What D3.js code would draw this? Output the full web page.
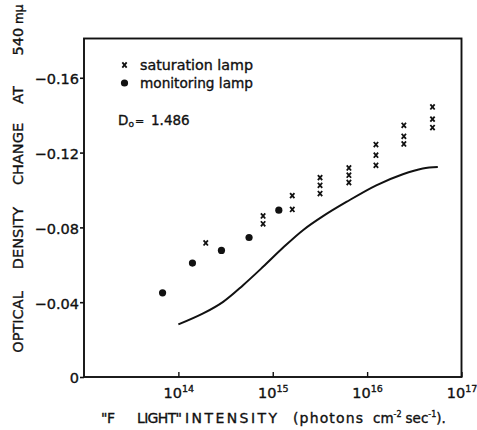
<!DOCTYPE html>
<html>
<head>
<meta charset="utf-8">
<script src="https://cdn.jsdelivr.net/npm/d3@7"></script>
<style>
  html, body { margin: 0; padding: 0; background: #fff; }
  svg { display: block; }
  text { font-family: "DejaVu Sans", sans-serif; fill: #111; stroke: #111; stroke-width: 0.35px; }
</style>
</head>
<body>
<svg id="chart" width="477" height="430"></svg>
<script>
// Optical density change at 540 mμ versus "F light" intensity
const xTicks = [1e14, 1e15, 1e16, 1e17];
const xTickExponents = ["14", "15", "16", "17"];
const yTicks = [0, -0.04, -0.08, -0.12, -0.16];
const yTickLabels = ["0", "\u22120.04", "\u22120.08", "\u22120.12", "\u22120.16"];

// saturation lamp readings (photons cm^-2 s^-1, ΔOD)
const saturationX = [1.95e14, 7.9e14, 7.9e14, 1.61e15, 1.61e15,
  3.17e15, 3.17e15, 3.17e15, 6.41e15, 6.41e15, 6.41e15,
  1.24e16, 1.24e16, 1.24e16, 2.45e16, 2.45e16, 2.45e16,
  4.93e16, 4.93e16, 4.93e16];
const saturationY = [-0.0717, -0.0861, -0.0819, -0.0970, -0.0896,
  -0.1066, -0.1025, -0.0981, -0.1118, -0.1079, -0.1040,
  -0.1243, -0.1186, -0.1132, -0.1346, -0.1287, -0.1246,
  -0.1444, -0.1379, -0.1334];

// monitoring lamp readings
const monitorX = [6.8e13, 1.41e14, 2.86e14, 5.61e14, 1.16e15];
const monitorY = [-0.0450, -0.0609, -0.0677, -0.0746, -0.0892];

// calculated curve
const curveX = [1.0e14, 1.83e14, 2.98e14, 4.85e14, 7.89e14, 1.29e15, 2.09e15,
  3.41e15, 6.03e15, 1.25e16, 2.39e16, 3.89e16, 5.61e16];
const curveY = [-0.0281, -0.0340, -0.0402, -0.0491, -0.0589, -0.0692, -0.0785,
  -0.0860, -0.0936, -0.1025, -0.1084, -0.1115, -0.1123];

const legendLabels = ["saturation lamp", "monitoring lamp"];
const d0Value = "1.486";

const svg = d3.select("#chart");
const plotLeft = 84, plotRight = 461.5, plotTop = 38.5, plotBottom = 377;

const x = d3.scaleLog().domain([1e13, 1e17]).range([plotLeft, plotRight]);
const y = d3.scaleLinear().domain([0, -0.181]).range([plotBottom, plotTop]);

// frame
svg.append("rect")
  .attr("x", plotLeft).attr("y", plotTop)
  .attr("width", plotRight - plotLeft).attr("height", plotBottom - plotTop)
  .attr("fill", "none").attr("stroke", "#111").attr("stroke-width", 1.9);

// y axis (ticks outside)
const yAxis = d3.axisLeft(y)
  .tickValues(yTicks)
  .tickFormat((d, i) => yTickLabels[i])
  .tickSize(4).tickSizeOuter(0).tickPadding(1);
const gy = svg.append("g").attr("transform", `translate(${plotLeft},0)`).call(yAxis);
gy.select(".domain").remove();
gy.selectAll(".tick line").attr("stroke", "#111").attr("stroke-width", 1.6);
gy.selectAll(".tick text")
  .style("font-family", "DejaVu Sans, sans-serif")
  .style("font-size", "14.5px").attr("dy", "0.4em");

// x axis (ticks inside)
const xAxis = d3.axisBottom(x).tickValues(xTicks).tickFormat("").tickSize(-5).tickSizeOuter(0);
const gx = svg.append("g").attr("transform", `translate(0,${plotBottom})`).call(xAxis);
gx.select(".domain").remove();
gx.selectAll(".tick line").attr("stroke", "#111").attr("stroke-width", 1.4);
gx.selectAll(".tick").each(function (d, i) {
  const t = d3.select(this).append("text")
    .attr("y", 21).attr("text-anchor", "middle")
    .style("font-size", "14.5px");
  t.append("tspan").text("10");
  t.append("tspan").attr("dy", -6).style("font-size", "9.5px").text(xTickExponents[i]);
});

// theoretical curve
const line = d3.line()
  .x((d, i) => x(curveX[i]))
  .y((d, i) => y(curveY[i]))
  .curve(d3.curveCatmullRom.alpha(0.5));
svg.append("path")
  .attr("d", line(curveX))
  .attr("fill", "none").attr("stroke", "#111").attr("stroke-width", 2);

// cross marker
const cross = {
  draw(ctx, size) {
    const r = Math.sqrt(size) / 2;
    ctx.moveTo(-r * 0.85, -r); ctx.lineTo(r * 0.85, r);
    ctx.moveTo(r * 0.85, -r); ctx.lineTo(-r * 0.85, r);
  }
};
const crossPath = d3.symbol(cross, 26)();

svg.append("g").selectAll("path")
  .data(saturationX)
  .join("path")
  .attr("d", crossPath)
  .attr("transform", (d, i) => `translate(${x(d)},${y(saturationY[i])})`)
  .attr("fill", "none").attr("stroke", "#111").attr("stroke-width", 1.8);

svg.append("g").selectAll("circle")
  .data(monitorX)
  .join("circle")
  .attr("cx", d => x(d))
  .attr("cy", (d, i) => y(monitorY[i]))
  .attr("r", 3.6)
  .attr("fill", "#111");

// legend
const lg = svg.append("g");
lg.append("path").attr("d", crossPath)
  .attr("transform", "translate(124.5,65)")
  .attr("fill", "none").attr("stroke", "#111").attr("stroke-width", 1.8);
lg.append("circle").attr("cx", 124.5).attr("cy", 83).attr("r", 3.6).attr("fill", "#111");
lg.selectAll("text.lab")
  .data(legendLabels)
  .join("text")
  .attr("class", "lab")
  .attr("x", 140)
  .attr("y", (d, i) => 70 + i * 18)
  .attr("textLength", 113)
  .attr("lengthAdjust", "spacingAndGlyphs")
  .style("font-size", "13.5px")
  .text(d => d);

// D0 annotation
const dt = svg.append("text").attr("x", 118).attr("y", 124.5).style("font-size", "13.5px");
dt.append("tspan").text("D");
dt.append("tspan").attr("dy", 2.5).style("font-size", "9px").text("o");
dt.append("tspan").attr("dy", -2.5).attr("x", 135).style("font-size", "11px").text("=");
dt.append("tspan").attr("x", 151).text(d0Value);

// y-axis title, word by word
const yWords = [
  { w: "OPTICAL", c: 322 },
  { w: "DENSITY", c: 238 },
  { w: "CHANGE", c: 154 },
  { w: "AT", c: 95 }
];
yWords.forEach(o => {
  svg.append("text")
    .attr("transform", `translate(23,${o.c}) rotate(-90)`)
    .attr("text-anchor", "middle")
    .style("font-size", "14.5px")
    .text(o.w);
});
const wl = svg.append("text")
  .attr("transform", "translate(23,30) rotate(-90)")
  .attr("text-anchor", "middle")
  .style("font-size", "14.5px");
wl.append("tspan").text("540");
wl.append("tspan").style("font-size", "12px").text(" mμ");

// x-axis title, laid out word by word
const xTitleBase = 423;
const xWords = [
  { w: "\"F", x0: 101, len: 14 },
  { w: "LIGHT\"", x0: 137, len: 45 },
  { w: "INTENSITY", x0: 185, len: 92 },
  { w: "(photons", x0: 293, len: 70 }
];
xWords.forEach(o => {
  svg.append("text")
    .attr("x", o.x0).attr("y", xTitleBase)
    .attr("textLength", o.len).attr("lengthAdjust", "spacing")
    .style("font-size", "14px")
    .text(o.w);
});
// units with superscript exponents
const ut = svg.append("text").attr("x", 373).attr("y", xTitleBase).style("font-size", "13.5px");
ut.append("tspan").text("cm");
ut.append("tspan").attr("dy", -6).style("font-size", "8px").text("-2");
ut.append("tspan").attr("dy", 6).attr("dx", 4).text("sec");
ut.append("tspan").attr("dy", -6).style("font-size", "8px").text("-1");
ut.append("tspan").attr("dy", 6).text(").");
</script>
</body>
</html>
